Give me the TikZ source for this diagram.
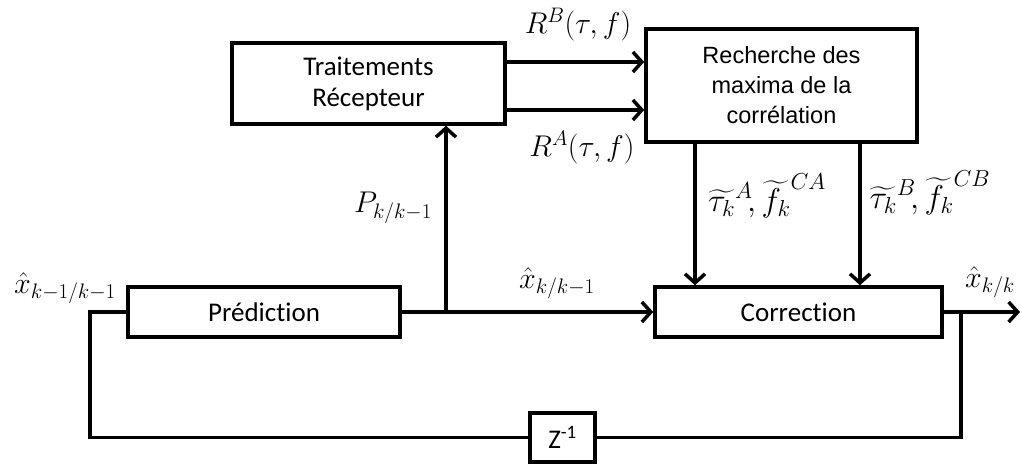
\RequirePackage{fix-cm}
\documentclass[tikz,border=0pt]{standalone}
\usepackage{amsmath}
\usepackage{fontspec}
\newfontfamily\calibri[Ligatures=NoCommon]{Carlito}
\newfontfamily\helv{Liberation Sans}
\usetikzlibrary{arrows.meta}
\tikzset{
  box/.style={draw, line width=3.5pt, rectangle, align=center, inner sep=0pt},
  cbox/.style={box, font=\calibri\fontsize{27}{31}\selectfont},
  hbox/.style={box, font=\helv\fontsize{23.5}{30}\selectfont},
  wire/.style={line width=3.5pt},
  arr/.style={wire, -{Straight Barb[length=9pt,width=20pt,line width=3.5pt]}},
  lab/.style={inner sep=0pt, font=\fontsize{30}{34}\selectfont},
  biglab/.style={inner sep=0pt, font=\fontsize{33}{36}\selectfont}
}
\begin{document}
\begin{tikzpicture}[x=1pt,y=-1pt]
\useasboundingbox (0,0) rectangle (1022,464);
% blocks
\node[cbox, minimum width=273pt, minimum height=81pt] (trait) at (368.5,83.5) {Traitements\\R\'ecepteur};
\node[hbox, minimum width=271pt, minimum height=113pt] (rech) at (781.5,85.5) {Recherche des\\maxima de la\\corr\'elation};
\node[cbox, minimum width=272pt, minimum height=50pt] (pred) at (264,312) {Pr\'ediction};
\node[cbox, minimum width=287pt, minimum height=50pt] (corr) at (798.5,312) {Correction};
\node[cbox, minimum width=65pt, minimum height=49pt] (zinv) at (562.5,437.5) {Z\textsuperscript{-1}};
% junctions
\coordinate (jp) at (446,312);
\coordinate (jc) at (961,312);
\coordinate (out) at (1020,312);
\coordinate (tl) at (90,312);
\coordinate (bl) at (90,437.5);
\coordinate (br) at (961,437.5);
\coordinate (ca) at (695,0);
\coordinate (cb) at (860,0);
% connectors
\draw[arr] (trait.east |- 0,62) -- (rech.west |- 0,62);
\draw[arr] (trait.east |- 0,110) -- (rech.west |- 0,110);
\draw[arr] (pred.east) -- (corr.west);
\draw[arr] (jp) -- (jp |- trait.south);
\draw[arr] (rech.south -| ca) -- (corr.north -| ca);
\draw[arr] (rech.south -| cb) -- (corr.north -| cb);
\draw[arr] (corr.east) -- (out);
\draw[wire] (jc) -- (br) -- (zinv.east);
\draw[wire] (zinv.west) -- (bl) -- (tl) -- (pred.west);
% labels
\node[lab] (lrb) at (578,25) {$R^{B}(\tau,f)$};
\node[lab] (lra) at (582,148) {$R^{A}(\tau,f)$};
\node[lab] (lp) at (393,208) {$P_{k/k-1}$};
\node[lab] (lxp) at (557,283) {$\hat{x}_{k/k-1}$};
\node[lab] (lx0) at (65,288) {$\hat{x}_{k-1/k-1}$};
\node[lab] (lxk) at (990,282) {$\hat{x}_{k/k}$};
\node[biglab] (lta) at (767,196) {${\widetilde{\tau_k}}^{A}\!,{\widetilde{f_k}}^{CA}$};
\node[biglab] (ltb) at (930,193) {${\widetilde{\tau_k}}^{B}\!,{\widetilde{f_k}}^{CB}$};
\end{tikzpicture}
\end{document}
